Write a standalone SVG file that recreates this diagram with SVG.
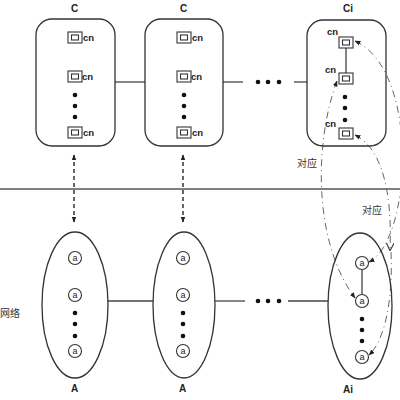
<svg xmlns="http://www.w3.org/2000/svg" width="400" height="400" viewBox="0 0 400 400">
<style>
.box{fill:none;stroke:#333;stroke-width:1.3}
.lbl{font-family:"Liberation Sans",Arial,sans-serif;font-weight:bold;font-size:10px;fill:#222}
.cn{font-family:"Liberation Sans",Arial,sans-serif;font-weight:bold;font-size:9.5px;fill:#222}
.a{font-family:"Liberation Sans",Arial,sans-serif;font-size:9px;fill:#222;text-anchor:middle}
.zh{font-family:"Noto Sans CJK SC","Noto Sans",sans-serif;font-size:10px;fill:#333}
.ln{stroke:#444;stroke-width:1.3;fill:none}
.dot{fill:#111}
.vd{stroke:#333;stroke-width:1.5;stroke-dasharray:4 3;fill:none}
.cd{stroke:#666;stroke-width:1;stroke-dasharray:7 4 1 4;fill:none}
.cno{fill:none;stroke:#333;stroke-width:1.1}
.nc{fill:#fff;stroke:#333;stroke-width:1.1}
</style>
<defs>
<marker id="ah" viewBox="0 0 10 10" refX="9" refY="5" markerWidth="6" markerHeight="6" orient="auto-start-reverse" markerUnits="userSpaceOnUse">
<path d="M0,1 L10,5 L0,9 z" fill="#222"/>
</marker>
<marker id="av" viewBox="0 0 10 10" refX="9" refY="5" markerWidth="8" markerHeight="8" orient="auto" markerUnits="userSpaceOnUse">
<path d="M0,0 L10,5 L0,10" fill="none" stroke="#444" stroke-width="1.5"/>
</marker>
<g id="cnbox"><rect class="cno" x="0" y="0" width="14" height="11"/><rect class="cno" x="3.5" y="3" width="7" height="5"/></g>
</defs>
<rect width="400" height="400" fill="#fff"/>

<line x1="0" y1="189" x2="400" y2="189" stroke="#555" stroke-width="1.5"/>
<text class="zh" x="0" y="317">网络</text>

<g id="connectors">
<line class="ln" x1="115" y1="82" x2="145" y2="82"/>
<line class="ln" x1="223" y1="82" x2="243" y2="82"/>
<circle class="dot" cx="258" cy="82" r="2.3"/><circle class="dot" cx="268" cy="82" r="2.3"/><circle class="dot" cx="279" cy="82" r="2.3"/>
<line class="ln" x1="294" y1="82" x2="307" y2="82"/>
<line class="ln" x1="108" y1="301" x2="153" y2="301"/>
<line class="ln" x1="215" y1="301" x2="245" y2="301"/>
<circle class="dot" cx="258" cy="301" r="2.3"/><circle class="dot" cx="268" cy="301" r="2.3"/><circle class="dot" cx="279" cy="301" r="2.3"/>
<line class="ln" x1="288" y1="301" x2="328" y2="301"/>
<line class="vd" x1="74" y1="155" x2="74" y2="222" marker-start="url(#ah)" marker-end="url(#ah)"/>
<line class="vd" x1="183" y1="155" x2="183" y2="222" marker-start="url(#ah)" marker-end="url(#ah)"/>
<path class="cd" d="M337 81 C315 140 312 240 355 298" marker-start="url(#ah)" marker-end="url(#ah)"/>
<path class="cd" d="M355 41 C420 70 412 240 369 262" marker-start="url(#ah)" marker-end="url(#ah)"/>
<path class="cd" d="M355 135 C385 150 392 200 390 250" marker-start="url(#ah)" marker-end="url(#av)"/>
<path class="cd" d="M391 252 C393 300 385 340 369 355" marker-end="url(#ah)"/>
</g>
<text class="zh" x="297" y="167">对应</text>
<text class="zh" x="362" y="214">对应</text>

<g id="C1">
<rect class="box" x="36" y="19" width="79" height="127" rx="16"/>
<text class="lbl" x="71" y="12">C</text>
<use href="#cnbox" x="68" y="32"/><text class="cn" x="83" y="41">cn</text>
<use href="#cnbox" x="68" y="71"/><text class="cn" x="82" y="80">cn</text>
<circle class="dot" cx="75" cy="95" r="2.3"/><circle class="dot" cx="75" cy="106" r="2.3"/><circle class="dot" cx="75" cy="117" r="2.3"/>
<use href="#cnbox" x="68" y="127"/><text class="cn" x="83" y="136">cn</text>
</g>
<g id="C2">
<rect class="box" x="145" y="19" width="78" height="127" rx="16"/>
<text class="lbl" x="180" y="12">C</text>
<use href="#cnbox" x="177" y="32"/><text class="cn" x="192" y="41">cn</text>
<use href="#cnbox" x="177" y="71"/><text class="cn" x="191" y="80">cn</text>
<circle class="dot" cx="184" cy="95" r="2.3"/><circle class="dot" cx="184" cy="106" r="2.3"/><circle class="dot" cx="184" cy="117" r="2.3"/>
<use href="#cnbox" x="177" y="127"/><text class="cn" x="192" y="136">cn</text>
</g>
<g id="Ci">
<rect class="box" x="307" y="20" width="79" height="126" rx="16"/>
<text class="lbl" x="343" y="12">Ci</text>
<line class="ln" x1="346" y1="48" x2="346" y2="73"/>
<use href="#cnbox" x="339" y="37"/><text class="cn" x="327" y="35">cn</text>
<use href="#cnbox" x="339" y="73"/><text class="cn" x="325" y="73">cn</text>
<circle class="dot" cx="345" cy="97" r="2.3"/><circle class="dot" cx="345" cy="108" r="2.3"/><circle class="dot" cx="345" cy="120" r="2.3"/>
<use href="#cnbox" x="339" y="128"/><text class="cn" x="325" y="127">cn</text>
</g>

<g id="A1">
<ellipse class="box" cx="75" cy="305" rx="33" ry="73"/>
<text class="lbl" x="71" y="392">A</text>
<circle class="nc" cx="75" cy="258" r="6.5"/><text class="a" x="75" y="261">a</text>
<circle class="nc" cx="75" cy="295" r="6.5"/><text class="a" x="75" y="298">a</text>
<circle class="dot" cx="75" cy="313" r="2.3"/><circle class="dot" cx="75" cy="324" r="2.3"/><circle class="dot" cx="75" cy="336" r="2.3"/>
<circle class="nc" cx="75" cy="351" r="6.5"/><text class="a" x="75" y="354">a</text>
</g>
<g id="A2">
<ellipse class="box" cx="184" cy="305" rx="31" ry="73"/>
<text class="lbl" x="179" y="392">A</text>
<circle class="nc" cx="183" cy="258" r="6.5"/><text class="a" x="183" y="261">a</text>
<circle class="nc" cx="183" cy="295" r="6.5"/><text class="a" x="183" y="298">a</text>
<circle class="dot" cx="183" cy="313" r="2.3"/><circle class="dot" cx="183" cy="324" r="2.3"/><circle class="dot" cx="183" cy="336" r="2.3"/>
<circle class="nc" cx="183" cy="351" r="6.5"/><text class="a" x="183" y="354">a</text>
</g>
<g id="Ai">
<ellipse class="box" cx="360" cy="306" rx="32" ry="73"/>
<text class="lbl" x="343" y="393">Ai</text>
<line class="ln" x1="362" y1="270" x2="362" y2="294"/>
<circle class="nc" cx="362" cy="263" r="6.5"/><text class="a" x="362" y="266">a</text>
<circle class="nc" cx="362" cy="301" r="6.5"/><text class="a" x="362" y="304">a</text>
<circle class="dot" cx="362" cy="319" r="2.3"/><circle class="dot" cx="362" cy="330" r="2.3"/><circle class="dot" cx="362" cy="341" r="2.3"/>
<circle class="nc" cx="362" cy="357" r="6.5"/><text class="a" x="362" y="360">a</text>
</g>
</svg>
